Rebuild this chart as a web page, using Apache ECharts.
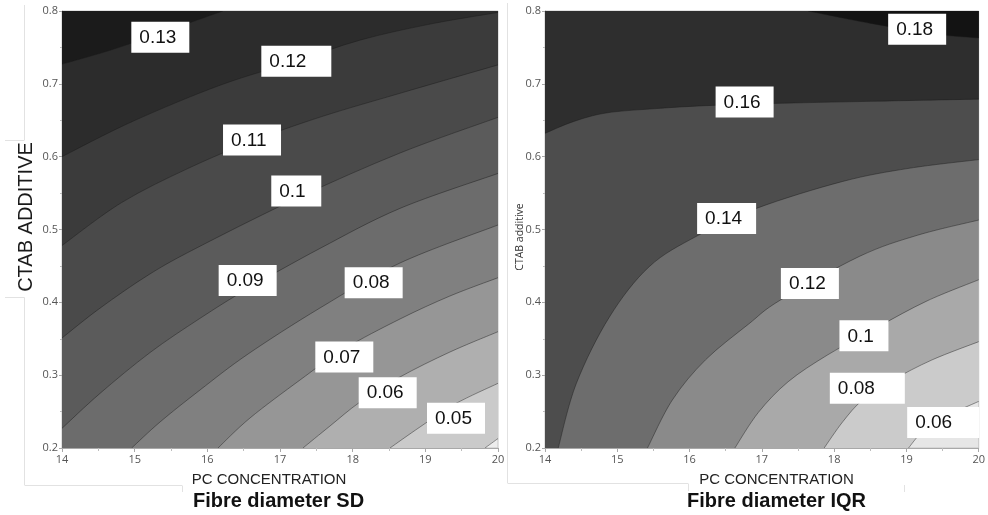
<!DOCTYPE html>
<html>
<head>
<meta charset="utf-8">
<script src="https://cdn.jsdelivr.net/npm/echarts@6/dist/echarts.min.js"></script>
<style>
  html, body { margin: 0; padding: 0; background: #fff; }
  #chart { width: 988px; height: 515px; }
</style>
</head>
<body>
<div id="chart"></div>
<script>
// Shared design space: PC concentration (x) and CTAB additive (y)
const pcRange = [14, 20];
const ctabRange = [0.2, 0.8];
const pcTicks = [14, 15, 16, 17, 18, 19, 20];
const ctabTicks = [0.2, 0.3, 0.4, 0.5, 0.6, 0.7, 0.8];

// Fibre diameter SD: contour levels (ascending) and their level curves as [PC, CTAB]
const sdLevels = [0.04, 0.05, 0.06, 0.07, 0.08, 0.09, 0.10, 0.11, 0.12, 0.13];
const sdCurve004 = [[19.821, 0.2], [20, 0.213]];
const sdCurve005 = [[18.514, 0.2], [18.926, 0.2288], [19.408, 0.2604], [20, 0.2888]];
const sdCurve006 = [[17.316, 0.2], [17.688, 0.2302], [18.101, 0.2631], [18.651, 0.2975], [19.339, 0.3318], [20, 0.3597]];
const sdCurve007 = [[16.147, 0.2], [16.587, 0.2412], [17.275, 0.2933], [17.88, 0.3359], [18.651, 0.3771], [19.339, 0.4087], [20, 0.4338]];
const sdCurve008 = [[14.959, 0.2], [15.349, 0.2357], [15.899, 0.2796], [16.56, 0.329], [17.55, 0.3922], [18.651, 0.454], [20, 0.5062]];
const sdCurve009 = [[14, 0.227], [14.523, 0.275], [15.211, 0.331], [15.899, 0.378], [16.56, 0.419], [17.55, 0.474], [18.651, 0.529], [20, 0.577]];
const sdCurve010 = [[14, 0.351], [14.523, 0.392], [15.211, 0.439], [15.899, 0.477], [17.234, 0.543], [18.651, 0.605], [20, 0.654]];
const sdCurve011 = [[14, 0.478], [14.821, 0.537], [15.738, 0.584], [16.61, 0.621], [17.574, 0.655], [18.72, 0.689], [20, 0.726]];
const sdCurve012 = [[14, 0.6], [14.963, 0.648], [16.174, 0.698], [17.22, 0.731], [18.101, 0.76], [19.064, 0.782], [20, 0.798]];
const sdCurve013 = [[14, 0.727], [14.661, 0.746], [15.362, 0.77], [16.215, 0.8]];
const sdLabelText = ['0.13', '0.12', '0.11', '0.1', '0.09', '0.08', '0.07', '0.06', '0.05'];
const sdLabelAt = [[15.064, 0.764], [16.853, 0.731], [16.326, 0.623], [16.99, 0.553], [16.266, 0.43],
                   [18.0, 0.427], [17.596, 0.325], [18.193, 0.276], [19.133, 0.241]];

// Fibre diameter IQR: contour levels (ascending) and their level curves as [PC, CTAB]
const iqrLevels = [0.06, 0.08, 0.10, 0.12, 0.14, 0.16, 0.18];
const iqrCurve006 = [[19.029, 0.2], [19.217, 0.222], [19.492, 0.241], [20, 0.264]];
const iqrCurve008 = [[17.862, 0.2], [18.119, 0.236], [18.394, 0.266], [18.806, 0.293], [19.355, 0.321], [20, 0.346]];
const iqrCurve010 = [[16.627, 0.2], [16.953, 0.249], [17.364, 0.291], [17.913, 0.328], [18.6, 0.366], [19.286, 0.402], [20, 0.431]];
const iqrCurve012 = [[15.418, 0.2], [15.762, 0.266], [16.22, 0.321], [16.815, 0.37], [17.254, 0.403], [18.348, 0.463], [19.149, 0.492], [20, 0.513]];
const iqrCurve014 = [[14.183, 0.2], [14.435, 0.289], [14.892, 0.38], [15.442, 0.449], [16.101, 0.491], [16.925, 0.529], [18.119, 0.566], [19.035, 0.584], [20, 0.596]];
const iqrCurve016 = [[14, 0.632], [14.389, 0.648], [14.847, 0.66], [15.534, 0.666], [16.22, 0.67], [17.135, 0.673], [18.508, 0.676], [20, 0.679]];
const iqrCurve018 = [[17.639, 0.8], [18.508, 0.783], [19.423, 0.768], [20, 0.763]];
const iqrLabelText = ['0.18', '0.16', '0.14', '0.12', '0.1', '0.08', '0.06'];
const iqrLabelAt = [[18.858, 0.775], [16.471, 0.675], [16.215, 0.515], [17.374, 0.426],
                    [18.184, 0.354], [18.051, 0.282], [19.121, 0.235]];

// ---- styling ----
const FONT = '"Liberation Sans", Arial, sans-serif';
const TICK_FONT = '"Open Sans", "Noto Sans", sans-serif';
// grey ramp per band, lowest band first (one more band than levels)
const sdBandColors = ['#ededed', '#cacaca', '#afafaf', '#969696', '#808080', '#6c6c6c',
                      '#5b5b5b', '#4a4a4a', '#3b3b3b', '#2c2c2c', '#1b1b1b'];
const iqrBandColors = ['#e6e6e6', '#cbcbcb', '#a9a9a9', '#8a8a8a', '#6d6d6d', '#4d4d4d', '#2e2e2e', '#131313'];
const sdBoxWidths = [58, 70, 58, 50, 58, 58, 58, 58, 58];
const iqrBoxWidths = [58, 58, 59, 58, 49, 75, 72];

const panels = [
  { curves: [sdCurve004, sdCurve005, sdCurve006, sdCurve007, sdCurve008, sdCurve009, sdCurve010, sdCurve011, sdCurve012, sdCurve013],
    levels: sdLevels, colors: sdBandColors, labels: sdLabelText, labelAt: sdLabelAt, boxW: sdBoxWidths },
  { curves: [iqrCurve006, iqrCurve008, iqrCurve010, iqrCurve012, iqrCurve014, iqrCurve016, iqrCurve018],
    levels: iqrLevels, colors: iqrBandColors, labels: iqrLabelText, labelAt: iqrLabelAt, boxW: iqrBoxWidths }
];

// Position of a boundary point along the frame, walking counter-clockwise from the bottom-right corner
function framePos(p) {
  const [x, y] = p, eps = 1e-9;
  const W = pcRange[1] - pcRange[0], H = ctabRange[1] - ctabRange[0];
  if (Math.abs(x - pcRange[1]) < eps) return (y - ctabRange[0]) / H;
  if (Math.abs(y - ctabRange[1]) < eps) return 1 + (pcRange[1] - x) / W;
  if (Math.abs(x - pcRange[0]) < eps) return 2 + (ctabRange[1] - y) / H;
  return 3 + (x - pcRange[0]) / W;
}

// Frame corners passed when closing a level curve around its high side
function closingCorners(start, end) {
  const te = framePos(end);
  let ts = framePos(start);
  if (ts <= te) ts += 4;
  const TR = [pcRange[1], ctabRange[1]], TL = [pcRange[0], ctabRange[1]];
  const BL = [pcRange[0], ctabRange[0]], BR = [pcRange[1], ctabRange[0]];
  const ring = [[1, TR], [2, TL], [3, BL], [4, BR], [5, TR], [6, TL], [7, BL]];
  return ring.filter(c => c[0] > te && c[0] < ts).map(c => c[1]);
}

// Smooth path through pixel points (Catmull-Rom as cubic Beziers)
function smoothPath(pts) {
  let d = 'M' + pts[0][0] + ' ' + pts[0][1];
  for (let i = 0; i < pts.length - 1; i++) {
    const p0 = pts[i - 1] || pts[i], p1 = pts[i], p2 = pts[i + 1], p3 = pts[i + 2] || pts[i + 1];
    const c1x = p1[0] + (p2[0] - p0[0]) / 6, c1y = p1[1] + (p2[1] - p0[1]) / 6;
    const c2x = p2[0] - (p3[0] - p1[0]) / 6, c2y = p2[1] - (p3[1] - p1[1]) / 6;
    d += ' C' + c1x + ' ' + c1y + ' ' + c2x + ' ' + c2y + ' ' + p2[0] + ' ' + p2[1];
  }
  return d;
}

function contourSeries(panel, gi) {
  return {
    type: 'custom', xAxisIndex: gi, yAxisIndex: gi, silent: true, clip: true, z: 2,
    data: panel.curves.map((c, i) => [c[0][0], c[0][1], i]),
    encode: { x: 0, y: 1 },
    renderItem(params, api) {
      const i = api.value(2);
      const curve = panel.curves[i];
      const px = curve.map(p => api.coord(p));
      const corners = closingCorners(curve[0], curve[curve.length - 1]).map(p => api.coord(p));
      let area = smoothPath(px);
      corners.forEach(c => { area += ' L' + c[0] + ' ' + c[1]; });
      area += ' Z';
      return {
        type: 'group',
        children: [
          { type: 'path', shape: { pathData: area }, style: { fill: panel.colors[i + 1], stroke: null }, z2: i },
          { type: 'path', shape: { pathData: smoothPath(px) },
            style: { fill: null, stroke: 'rgba(25,25,25,0.55)', lineWidth: 0.8 }, z2: 100 + i }
        ]
      };
    }
  };
}

function labelSeries(panel, gi) {
  return {
    type: 'custom', xAxisIndex: gi, yAxisIndex: gi, silent: true, clip: false, z: 5,
    data: panel.labelAt.map((p, i) => [p[0], p[1], i]),
    encode: { x: 0, y: 1 },
    renderItem(params, api) {
      const i = api.value(2);
      const c = api.coord([api.value(0), api.value(1)]);
      return {
        type: 'group',
        children: [
          { type: 'rect', shape: { x: c[0] - 8, y: c[1] - 15.5, width: panel.boxW[i], height: 31 },
            style: { fill: '#ffffff' } },
          { type: 'text', x: c[0], y: c[1] + 0.5,
            style: { text: panel.labels[i], fill: '#111', font: '19px ' + FONT,
                     textAlign: 'left', textVerticalAlign: 'middle' } }
        ]
      };
    }
  };
}

const grids = [
  { left: 62, top: 11, width: 436, height: 437 },
  { left: 545, top: 11, width: 437, height: 437 }
].map((g, i) => Object.assign(g, {
  show: true, borderColor: '#c4c4c4', borderWidth: 1, backgroundColor: panels[i].colors[0]
}));

function xAxis(gi) {
  return {
    type: 'value', gridIndex: gi, min: pcRange[0], max: pcRange[1], interval: pcTicks[1] - pcTicks[0],
    axisLine: { show: true, lineStyle: { color: '#a8a8a8', width: 1 } },
    axisTick: { show: true, length: 4, lineStyle: { color: '#a8a8a8' } },
    minorTick: { show: true, splitNumber: 2, length: 3, lineStyle: { color: '#bdbdbd' } },
    splitLine: { show: false },
    axisLabel: { color: '#555', fontSize: 11, fontFamily: TICK_FONT, margin: 6 }
  };
}
function yAxis(gi) {
  return {
    type: 'value', gridIndex: gi, min: ctabRange[0], max: ctabRange[1],
    interval: +(ctabTicks[1] - ctabTicks[0]).toFixed(2),
    axisLine: { show: true, lineStyle: { color: '#a8a8a8', width: 1 } },
    axisTick: { show: true, length: 3, lineStyle: { color: '#a8a8a8' } },
    minorTick: { show: true, splitNumber: 2, length: 2, lineStyle: { color: '#bdbdbd' } },
    splitLine: { show: false },
    axisLabel: { color: '#555', fontSize: 11, fontFamily: TICK_FONT, margin: 4,
                 formatter: v => v.toFixed(1) }
  };
}

const faint = { stroke: '#e2e2e2', lineWidth: 1 };
function seg(x1, y1, x2, y2) {
  return { type: 'line', shape: { x1, y1, x2, y2 }, style: faint, silent: true };
}

const chart = echarts.init(document.getElementById('chart'), null, { renderer: 'canvas' });
chart.setOption({
  animation: false,
  backgroundColor: '#ffffff',
  grid: grids,
  xAxis: [xAxis(0), xAxis(1)],
  yAxis: [yAxis(0), yAxis(1)],
  series: [contourSeries(panels[0], 0), labelSeries(panels[0], 0),
           contourSeries(panels[1], 1), labelSeries(panels[1], 1)],
  graphic: [
    // light panel frames
    seg(24.5, 5, 24.5, 140), seg(5, 140.5, 24.5, 140.5),
    seg(5, 297.5, 24.5, 297.5), seg(24.5, 297.5, 24.5, 485),
    seg(24.5, 485.5, 182, 485.5), seg(182.5, 485.5, 182.5, 492),
    seg(507.5, 3, 507.5, 483), seg(507.5, 483.5, 688, 483.5),
    seg(688.5, 483.5, 688.5, 491), seg(904.5, 485, 904.5, 492),
    // axis titles
    { type: 'text', x: 26.5, y: 217, rotation: Math.PI / 2,
      style: { text: 'CTAB ADDITIVE', fill: '#1a1a1a', font: '20px ' + FONT,
               textAlign: 'center', textVerticalAlign: 'middle' } },
    { type: 'text', x: 520, y: 237, rotation: Math.PI / 2,
      style: { text: 'CTAB additive', fill: '#333', font: '10.5px ' + TICK_FONT,
               textAlign: 'center', textVerticalAlign: 'middle' } },
    { type: 'text', x: 269, y: 479.5,
      style: { text: 'PC CONCENTRATION', fill: '#222', font: '15px ' + FONT,
               textAlign: 'center', textVerticalAlign: 'middle' } },
    { type: 'text', x: 776.5, y: 479.5,
      style: { text: 'PC CONCENTRATION', fill: '#222', font: '15px ' + FONT,
               textAlign: 'center', textVerticalAlign: 'middle' } },
    { type: 'text', x: 278.5, y: 501.5,
      style: { text: 'Fibre diameter SD', fill: '#111', font: 'bold 20px ' + FONT,
               textAlign: 'center', textVerticalAlign: 'middle' } },
    { type: 'text', x: 776.5, y: 501.5,
      style: { text: 'Fibre diameter IQR', fill: '#111', font: 'bold 20px ' + FONT,
               textAlign: 'center', textVerticalAlign: 'middle' } }
  ]
});
</script>
</body>
</html>
